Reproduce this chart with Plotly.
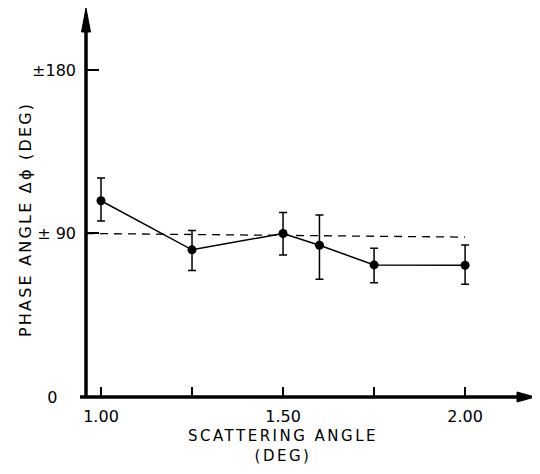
import plotly.graph_objects as go

# Data
scatter_angle = [1.00, 1.25, 1.50, 1.60, 1.75, 2.00]
phase_angle = [108.0, 81.0, 90.0, 83.5, 72.7, 72.5]
err_plus = [12.5, 10.6, 11.6, 16.7, 9.2, 11.2]
err_minus = [11.1, 11.4, 11.9, 18.7, 9.8, 10.5]

ref_x = [0.959, 2.00]
ref_y = [90.0, 88.0]

x_tickvals = [1.00, 1.25, 1.50, 1.75, 2.00]
x_ticktext = ["1.00", "", "1.50", "", "2.00"]
y_tickvals = [0, 90, 180]
y_ticktext = ["0\u00a0\u00a0\u00a0\u2009", "\u00b1 90", "\u00b1180"]

FONT = "DejaVu Sans"
PW, PH = 449, 389  # plot area size in px

fig = go.Figure()

fig.add_trace(go.Scatter(
    x=ref_x, y=ref_y, mode="lines",
    line=dict(color="black", width=1.3, dash="8px,6px"),
    hoverinfo="skip", showlegend=False,
))

fig.add_trace(go.Scatter(
    x=scatter_angle, y=phase_angle, mode="lines+markers",
    line=dict(color="black", width=1.5),
    marker=dict(color="black", size=9),
    error_y=dict(type="data", array=err_plus, arrayminus=err_minus,
                 color="black", thickness=1.5, width=4),
    showlegend=False,
))

fig.update_layout(
    width=532, height=466,
    margin=dict(l=78, r=5, t=0, b=77),
    paper_bgcolor="white", plot_bgcolor="white",
    font=dict(family=FONT, size=16, color="black"),
    xaxis=dict(
        range=[0.9588, 2.192], showgrid=False, zeroline=False, showline=False,
        automargin=False,
        tickvals=x_tickvals, ticktext=x_ticktext,
        ticks="inside", ticklen=10, tickwidth=1.5, tickcolor="black",
        tickfont=dict(family=FONT, size=16), ticklabelstandoff=8,
    ),
    yaxis=dict(
        range=[0, 214.1], showgrid=False, zeroline=False, showline=False,
        automargin=False,
        tickvals=y_tickvals, ticktext=y_ticktext,
        ticks="inside", ticklen=13, tickwidth=1.5, tickcolor="black",
        tickfont=dict(family=FONT, size=16), ticklabelstandoff=9,
    ),
)

# axis titles
fig.add_annotation(xref="paper", yref="paper", x=0.439, y=-49 / PH, xanchor="center", yanchor="middle",
                   text="SCATTERING ANGLE<br>(DEG)", showarrow=False,
                   font=dict(family=FONT, size=15))
fig.add_annotation(xref="paper", yref="paper", x=-61 / PW, y=0.455, xanchor="center", yanchor="middle",
                   text="PHASE ANGLE \u0394\u03d5 (DEG)", textangle=-90, showarrow=False,
                   font=dict(family=FONT, size=16))

# axis lines with arrowheads
fig.add_shape(type="line", xref="paper", yref="paper", x0=-6 / PW, y0=0, x1=1 - 10 / PW, y1=0,
              line=dict(color="black", width=3.5))
fig.add_shape(type="line", xref="paper", yref="paper", x0=0, y0=0, x1=0, y1=1 - 12 / PH,
              line=dict(color="black", width=3.5))
fig.add_shape(type="path", xref="paper", yref="paper",
              path=f"M 0,1 L {-4.5 / PW},{1 - 24 / PH} L {4.5 / PW},{1 - 24 / PH} Z",
              fillcolor="black", line=dict(color="black", width=1))
fig.add_shape(type="path", xref="paper", yref="paper",
              path=f"M 1,0 L {1 - 18 / PW},{5 / PH} L {1 - 18 / PW},{-5 / PH} Z",
              fillcolor="black", line=dict(color="black", width=1))

post = ("var gd=document.getElementById('{plot_id}');"
        "var a=gd.querySelectorAll('.annotation-text');"
        "if(a.length>0){a[0].style.letterSpacing='2.5px';}"
        "if(a.length>1){a[1].style.letterSpacing='2.2px';}")

fig.write_html("out.html", post_script=post)
